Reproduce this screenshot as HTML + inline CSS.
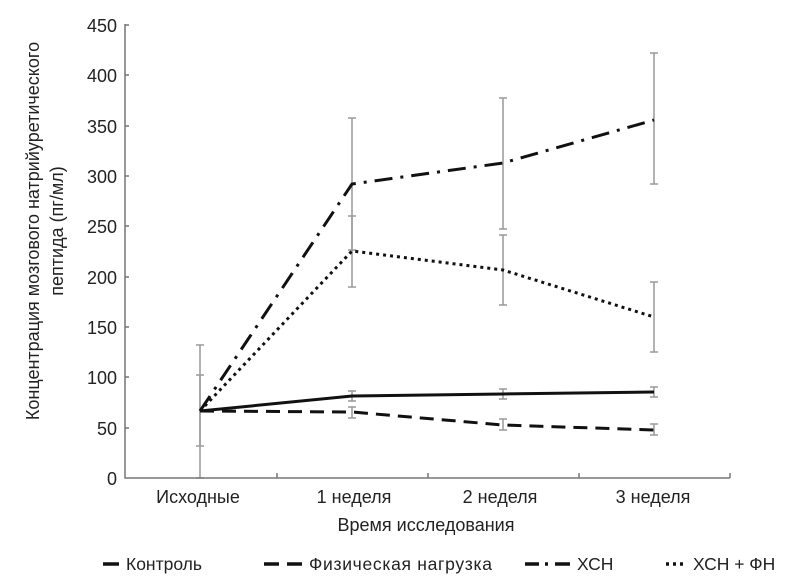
<!DOCTYPE html>
<html><head><meta charset="utf-8"><style>body{margin:0;background:#fff}svg{display:block}text{font-family:"Liberation Sans",Arial,sans-serif;fill:#222}</style></head>
<body>
<svg width="787" height="582" viewBox="0 0 787 582" xmlns="http://www.w3.org/2000/svg">
<g stroke="#999" stroke-width="1.5" fill="none">
<path d="M200 478V345M196 345h8M196 478h8"/>
<path d="M200 446V375M196 446h8M196 375h8"/>
<path d="M352 250V118M348 118h8M348 250h8"/>
<path d="M352 287V216M348 287h8M348 216h8"/>
<path d="M503 229V98M499 98h8M499 229h8"/>
<path d="M503 305V235M499 305h8M499 235h8"/>
<path d="M654 184V53M650 53h8M650 184h8"/>
<path d="M654 352V282M650 352h8M650 282h8"/>
<path d="M352 401V391M348 391h8M348 401h8"/>
<path d="M352 418V407M348 418h8M348 407h8"/>
<path d="M503 399V389M499 389h8M499 399h8"/>
<path d="M503 430V419M499 430h8M499 419h8"/>
<path d="M654 397V387M650 387h8M650 397h8"/>
<path d="M654 435V424M650 435h8M650 424h8"/>
</g>
<g stroke="#777" stroke-width="1.5" fill="none">
<path d="M125 24V478H730"/>
<path d="M125 25h4M125 75h4M125 126h4M125 176h4M125 226h4M125 277h4M125 327h4M125 377h4M125 428h4"/>
<path d="M277 478v-5M428 478v-5M579 478v-5M730 478v-5"/>
</g>
<g font-size="18" text-anchor="end">
<text x="117" y="32">450</text><text x="117" y="82">400</text><text x="117" y="133">350</text><text x="117" y="183">300</text><text x="117" y="233">250</text><text x="117" y="284">200</text><text x="117" y="334">150</text><text x="117" y="384">100</text><text x="117" y="435">50</text><text x="117" y="485">0</text>
</g>
<g font-size="18" text-anchor="middle">
<text x="198" y="503">Исходные</text><text x="354" y="503">1 неделя</text><text x="500" y="503">2 неделя</text><text x="653" y="503">3 неделя</text>
<text x="426" y="531">Время исследования</text>
<text transform="translate(39,231) rotate(-90)">Концентрация мозгового натрийуретического</text>
<text transform="translate(63,231) rotate(-90)">пептида (пг/мл)</text>
</g>
<g fill="none" stroke="#111" stroke-width="3">
<polyline points="200,411 352,396 503,394 654,392"/>
<polyline points="200,411 352,412 503,425 654,430" stroke-dasharray="14,8"/>
<polyline points="200,411 352,184 503,163 654,120" stroke-dasharray="18,8,3,8"/>
<polyline points="200,411 352,251 503,270 654,317" stroke-dasharray="3,4"/>
</g>
<g stroke="#111" stroke-width="3.5">
<path d="M103 564h16"/>
<path d="M264 564h15M287 564h15"/>
<path d="M525 564h14M545 564h3M555 564h15"/>
<path d="M666 564h3M673 564h3M680 564h3"/>
</g>
<g font-size="17.5">
<text x="126" y="570">Контроль</text>
<text x="309" y="570" textLength="183">Физическая нагрузка</text>
<text x="577" y="570">ХСН</text>
<text x="693" y="570">ХСН + ФН</text>
</g>
</svg>
</body></html>
